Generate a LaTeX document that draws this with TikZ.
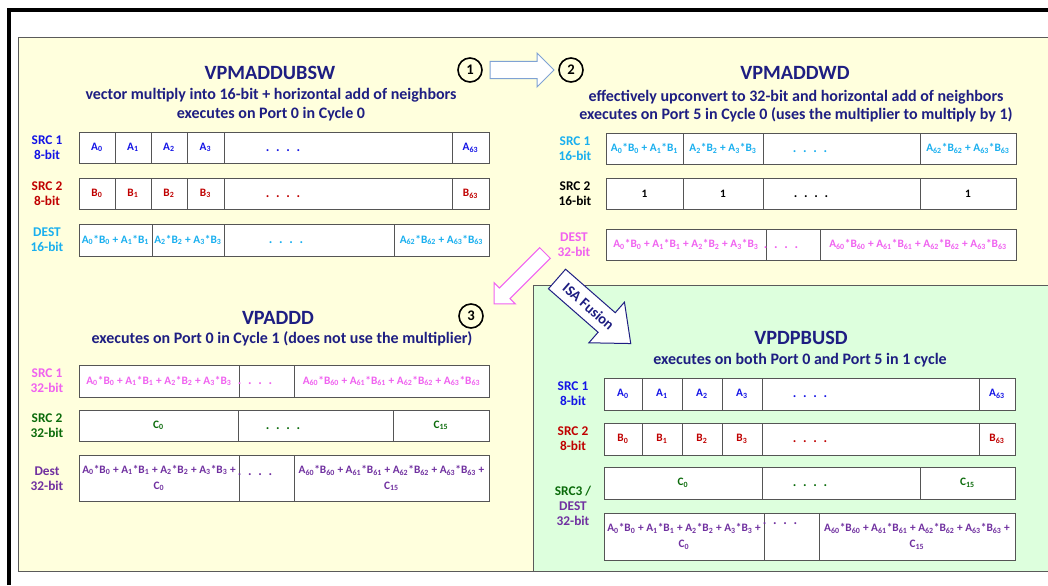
\documentclass[tikz,border=0pt]{standalone}
\usepackage{fontspec}
\setmainfont{Carlito}
\definecolor{navy}{HTML}{1E1E82}
\definecolor{blue8}{HTML}{1414E6}
\definecolor{red8}{HTML}{C00000}
\definecolor{cyan1}{HTML}{19AFEF}
\definecolor{pink1}{HTML}{F062F0}
\definecolor{grn1}{HTML}{0B6B0B}
\definecolor{pur1}{HTML}{7030A0}
\definecolor{yelbg}{HTML}{FFFFDD}
\definecolor{grnbg}{HTML}{DDFFDD}
\definecolor{cellgray}{HTML}{555555}
\definecolor{panelgray}{HTML}{5A5A5A}
\definecolor{arrblue}{HTML}{7FA2D4}
\newcommand{\sbs}[1]{\textsubscript{#1}}
\newcommand{\ab}[1]{A\sbs{#1}*B\sbs{#1}}
\newcommand{\dts}{.\hspace{5pt}.\hspace{5pt}.\hspace{5pt}.}
\newcommand{\cellb}[7]{\node[cellst,#1,minimum width={(#5-#3)*0.75pt},minimum height={(#6-#4)*0.75pt}] (#2) at ({(#3+#5)/2},{(#4+#6)/2}) {#7};}
\begin{document}
\begin{tikzpicture}[x=0.75pt,y=-0.75pt,
  cellst/.style={draw=cellgray,line width=0.75pt,fill=white,inner sep=0pt,font=\fontsize{8.5}{12}\selectfont\bfseries,align=center},
  lbl/.style={font=\fontsize{10}{11.5}\selectfont\bfseries,align=center,inner sep=0pt},
  ttl/.style={font=\fontsize{15.2}{18}\selectfont\bfseries,text=navy,inner sep=0pt},
  subt/.style={font=\fontsize{12}{14.25}\selectfont\bfseries,text=navy,align=center,inner sep=0pt},
  dotst/.style={font=\fontsize{10}{12}\selectfont\bfseries,inner sep=0pt},
  circ/.style={circle,draw=black,line width=1.2pt,minimum size=18pt,inner sep=0pt,font=\fontsize{11}{13}\selectfont\bfseries},
  blockarr/.style={fill=white,line width=0.75pt,line join=miter}
]
\useasboundingbox (0,0) rectangle (1048,585);
\fill[white] (0,0) rectangle (1048,585);
% outer frame
\draw[line width=2.3pt] (9,585) -- (9,10) -- (1048,10);
% panels
\draw[fill=yelbg,draw=panelgray,line width=0.75pt] (1048,38) -- (18,38) -- (18,571) -- (1048,571);
\draw[fill=grnbg,draw=panelgray,line width=0.75pt] (1048,285) -- (533,285) -- (533,571) -- (1048,571);

% ---------------- top left: VPMADDUBSW
\node[ttl] (tlT) at (270,73) {VPMADDUBSW};
\node[subt] (tlS) at (271,105) {vector multiply into 16-bit + horizontal add of neighbors\\executes on Port 0 in Cycle 0};
\node[lbl,text=blue8] (tlL1) at (47,147.5) {SRC 1\\8-bit};
\cellb{text=blue8}{tl1a}{79}{132}{115}{163}{A\sbs{0}}
\cellb{text=blue8}{tl1b}{115}{132}{151}{163}{A\sbs{1}}
\cellb{text=blue8}{tl1c}{151}{132}{187}{163}{A\sbs{2}}
\cellb{text=blue8}{tl1d}{187}{132}{224}{163}{A\sbs{3}}
\cellb{}{tl1e}{224}{132}{452}{163}{}
\cellb{text=blue8}{tl1f}{452}{132}{489}{163}{A\sbs{63}}
\node[dotst,text=blue8] (tl1x) at (283,150.5) {\dts};
\node[lbl,text=red8] (tlL2) at (47,193.5) {SRC 2\\8-bit};
\cellb{text=red8}{tl2a}{79}{178}{115}{209}{B\sbs{0}}
\cellb{text=red8}{tl2b}{115}{178}{151}{209}{B\sbs{1}}
\cellb{text=red8}{tl2c}{151}{178}{187}{209}{B\sbs{2}}
\cellb{text=red8}{tl2d}{187}{178}{224}{209}{B\sbs{3}}
\cellb{}{tl2e}{224}{178}{452}{209}{}
\cellb{text=red8}{tl2f}{452}{178}{489}{209}{B\sbs{63}}
\node[dotst,text=red8] (tl2x) at (283,196.5) {\dts};
\node[lbl,text=cyan1] (tlL3) at (47,240) {DEST\\16-bit};
\cellb{text=cyan1}{tl3a}{79}{224}{152}{256}{\ab{0} + \ab{1}}
\cellb{text=cyan1}{tl3b}{152}{224}{224}{256}{\ab{2} + \ab{3}}
\cellb{}{tl3c}{224}{224}{394}{256}{}
\cellb{text=cyan1}{tl3d}{394}{224}{489}{256}{\ab{62} + \ab{63}}
\node[dotst,text=cyan1] (tl3x) at (286,243) {\dts};

% ---------------- circles and arrow 1 -> 2
\node[circ] (c1) at (470,70) {1};
\node[circ] (c2) at (571,70) {2};
\begin{scope}[shift={(490,70)}]
\draw[blockarr,draw=arrblue] (0,-8.5) -- (47,-8.5) -- (47,-17) -- (64,0) -- (47,17) -- (47,8.5) -- (0,8.5) -- cycle;
\end{scope}

% ---------------- top right: VPMADDWD
\node[ttl] (trT) at (795,73) {VPMADDWD};
\node[subt,font=\fontsize{12}{13.5}\selectfont\bfseries] (trS) at (796,106) {effectively upconvert to 32-bit and horizontal add of neighbors\\executes on Port 5 in Cycle 0 (uses the multiplier to multiply by 1)};
\node[lbl,text=cyan1] (trL1) at (575,148.5) {SRC 1\\16-bit};
\cellb{text=cyan1}{tr1a}{606}{133}{683}{164}{\ab{0} + \ab{1}}
\cellb{text=cyan1}{tr1b}{683}{133}{763}{164}{\ab{2} + \ab{3}}
\cellb{}{tr1c}{763}{133}{920}{164}{}
\cellb{text=cyan1}{tr1d}{920}{133}{1016}{164}{\ab{62} + \ab{63}}
\node[dotst,text=cyan1] (tr1x) at (810,151.5) {\dts};
\node[lbl,text=black] (trL2) at (575,193.5) {SRC 2\\16-bit};
\cellb{text=black}{tr2a}{606}{178}{683}{209}{1}
\cellb{text=black}{tr2b}{683}{178}{763}{209}{1}
\cellb{}{tr2c}{763}{178}{920}{209}{}
\cellb{text=black}{tr2d}{920}{178}{1016}{209}{1}
\node[dotst,text=black] (tr2x) at (811,196.5) {\dts};
\node[lbl,text=pink1] (trL3) at (574,244.5) {DEST\\32-bit};
\cellb{text=pink1}{tr3a}{606}{229}{766}{260}{\ab{0} + \ab{1} + \ab{2} + \ab{3}}
\cellb{}{tr3b}{766}{229}{820}{260}{}
\cellb{text=pink1}{tr3c}{820}{229}{1016}{260}{\ab{60} + \ab{61} + \ab{62} + \ab{63}}
\node[dotst,text=pink1] (tr3x) at (781,247.5) {\dts};

% ---------------- arrow DEST -> 3
\begin{scope}[shift={(545,253)},rotate=225]
\draw[blockarr,draw=pink1] (0,-7.5) -- (57,-7.5) -- (57,-15) -- (72,0) -- (57,15) -- (57,7.5) -- (0,7.5) -- cycle;
\end{scope}

% ---------------- bottom left: VPADDD
\node[circ] (c3) at (471,316) {3};
\node[ttl] (blT) at (278,318) {VPADDD};
\node[subt] (blS) at (282,339) {executes on Port 0 in Cycle 1 (does not use the multiplier)};
\node[lbl,text=pink1] (blL1) at (47,381) {SRC 1\\32-bit};
\cellb{text=pink1}{bl1a}{79}{365}{239}{397}{\ab{0} + \ab{1} + \ab{2} + \ab{3}}
\cellb{}{bl1b}{239}{365}{294}{397}{}
\cellb{text=pink1}{bl1c}{294}{365}{489}{397}{\ab{60} + \ab{61} + \ab{62} + \ab{63}}
\node[dotst,text=pink1] (bl1x) at (255,384) {\dts};
\node[lbl,text=grn1] (blL2) at (47,425.5) {SRC 2\\32-bit};
\cellb{text=grn1}{bl2a}{79}{410}{238}{441}{C\sbs{0}}
\cellb{}{bl2b}{238}{410}{393}{441}{}
\cellb{text=grn1}{bl2c}{393}{410}{489}{441}{C\sbs{15}}
\node[dotst,text=grn1] (bl2x) at (283,428.5) {\dts};
\node[lbl,text=pur1] (blL3) at (47,479) {Dest\\32-bit};
\cellb{text=pur1}{bl3a}{79}{455}{239}{501}{\ab{0} + \ab{1} + \ab{2} + \ab{3} +\\C\sbs{0}}
\cellb{}{bl3b}{239}{455}{294}{501}{}
\cellb{text=pur1}{bl3c}{294}{455}{489}{501}{\ab{60} + \ab{61} + \ab{62} + \ab{63} +\\C\sbs{15}}
\node[dotst,text=pur1] (bl3x) at (255,475) {\dts};

% ---------------- ISA Fusion arrow
\begin{scope}[shift={(557,279)},rotate=-41.2]
\draw[blockarr,draw=navy] (0,-13) -- (66,-13) -- (66,-27) -- (98,0) -- (66,27) -- (66,13) -- (0,13) -- cycle;
\node[transform shape,font=\fontsize{11}{13}\selectfont\bfseries,text=navy,inner sep=0pt] (isa) at (42,0) {ISA Fusion};
\end{scope}

% ---------------- bottom right: VPDPBUSD
\node[ttl] (brT) at (801,338) {VPDPBUSD};
\node[subt] (brS) at (800,360) {executes on both Port 0 and Port 5 in 1 cycle};
\node[lbl,text=blue8] (brL1) at (573,394) {SRC 1\\8-bit};
\cellb{text=blue8}{br1a}{604}{378}{642}{410}{A\sbs{0}}
\cellb{text=blue8}{br1b}{642}{378}{682}{410}{A\sbs{1}}
\cellb{text=blue8}{br1c}{682}{378}{722}{410}{A\sbs{2}}
\cellb{text=blue8}{br1d}{722}{378}{762}{410}{A\sbs{3}}
\cellb{}{br1e}{762}{378}{979}{410}{}
\cellb{text=blue8}{br1f}{979}{378}{1015}{410}{A\sbs{63}}
\node[dotst,text=blue8] (br1x) at (810,397) {\dts};
\node[lbl,text=red8] (brL2) at (573,439) {SRC 2\\8-bit};
\cellb{text=red8}{br2a}{604}{423}{642}{455}{B\sbs{0}}
\cellb{text=red8}{br2b}{642}{423}{682}{455}{B\sbs{1}}
\cellb{text=red8}{br2c}{682}{423}{722}{455}{B\sbs{2}}
\cellb{text=red8}{br2d}{722}{423}{762}{455}{B\sbs{3}}
\cellb{}{br2e}{762}{423}{979}{455}{}
\cellb{text=red8}{br2f}{979}{423}{1015}{455}{B\sbs{63}}
\node[dotst,text=red8] (br2x) at (810,442) {\dts};
\node[lbl] (brL3) at (573,506) {\textcolor{grn1}{SRC3 /}\\\textcolor{pur1}{DEST}\\\textcolor{pur1}{32-bit}};
\cellb{text=grn1}{br3a}{604}{467}{762}{499}{C\sbs{0}}
\cellb{}{br3b}{762}{467}{920}{499}{}
\cellb{text=grn1}{br3c}{920}{467}{1015}{499}{C\sbs{15}}
\node[dotst,text=grn1] (br3x) at (810,486) {\dts};
\cellb{text=pur1}{br4a}{604}{513}{764}{560}{\ab{0} + \ab{1} + \ab{2} + \ab{3} +\\C\sbs{0}}
\cellb{}{br4b}{764}{513}{819}{560}{}
\cellb{text=pur1}{br4c}{819}{513}{1015}{560}{\ab{60} + \ab{61} + \ab{62} + \ab{63} +\\C\sbs{15}}
\node[dotst,text=pur1] (br4x) at (780,524) {\dts};
\end{tikzpicture}
\end{document}
